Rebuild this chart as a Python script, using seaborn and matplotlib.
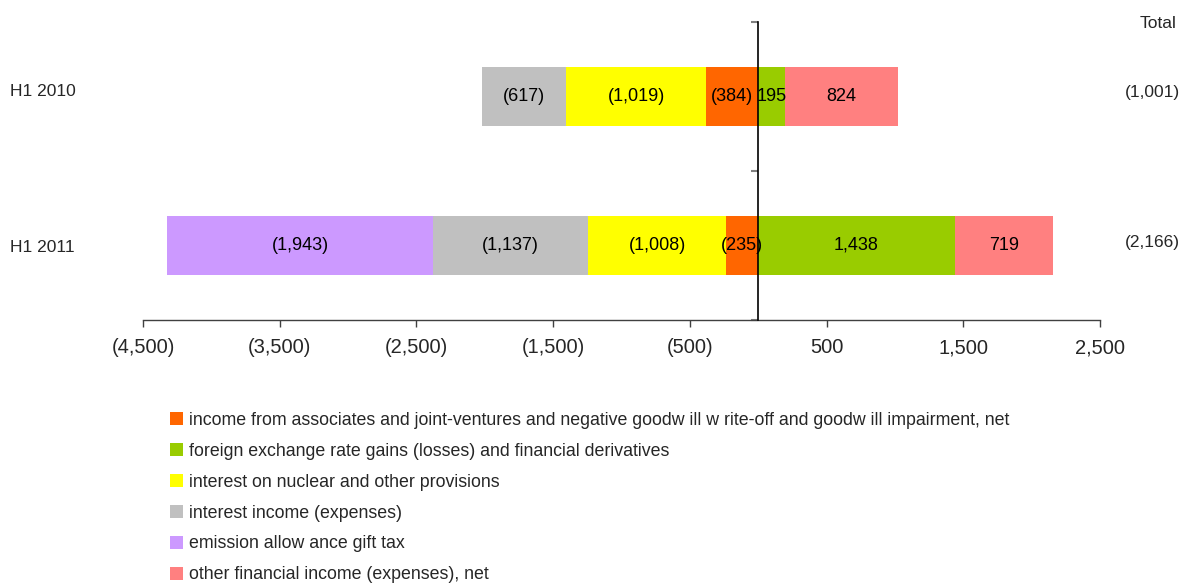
import matplotlib
matplotlib.use("Agg")
import matplotlib.pyplot as plt
from matplotlib.patches import Rectangle
import numpy as np
import seaborn as sns

# Financial result components by half-year (EUR millions)
categories = ["H1 2010", "H1 2011"]
associates = [-384, -235]
fx_derivatives = [195, 1438]
nuclear_interest = [-1019, -1008]
interest_income = [-617, -1137]
emission_tax = [0, -1943]
other_financial = [824, 719]
totals = [-1001, -2166]

series_names = [
    "income from associates and joint-ventures and negative goodw ill w rite-off and goodw ill impairment, net",
    "foreign exchange rate gains (losses) and financial derivatives",
    "interest on nuclear and other provisions",
    "interest income (expenses)",
    "emission allow ance gift tax",
    "other financial income (expenses), net",
]
colors = ["#FF6600", "#99CC00", "#FFFF00", "#C0C0C0", "#CC99FF", "#FF8080"]

xticks = [-4500, -3500, -2500, -1500, -500, 500, 1500, 2500]

sns.set_theme(style="white")
plt.rcParams["font.family"] = ["Liberation Sans", "DejaVu Sans"]


def fmt(v):
    return f"({abs(v):,.0f})" if v < 0 else f"{v:,.0f}"


W, H = 1184, 584
fig = plt.figure(figsize=(W / 100, H / 100), dpi=100)
ax = fig.add_axes([143 / W, 1 - 320 / H, (1100 - 143) / W, (320 - 22) / H])

a = np.array(associates, float)
f = np.array(fx_derivatives, float)
n = np.array(nuclear_interest, float)
i = np.array(interest_income, float)
e = np.array(emission_tax, float)
o = np.array(other_financial, float)

# stacked segments: negative side grows left from zero, positive side right
neg_layers = [
    (a + n + i + e, colors[4]),
    (a + n + i, colors[3]),
    (a + n, colors[2]),
    (a, colors[0]),
]
pos_layers = [
    (f + o, colors[5]),
    (f, colors[1]),
]
for vals, c in neg_layers + pos_layers:
    sns.barplot(x=vals, y=categories, orient="h", color=c, saturation=1,
                width=0.4, linewidth=0, ax=ax)

# value labels centred in each segment
segments = [
    (np.zeros(2), a, associates),
    (a, a + n, nuclear_interest),
    (a + n, a + n + i, interest_income),
    (a + n + i, a + n + i + e, emission_tax),
    (np.zeros(2), f, fx_derivatives),
    (f, f + o, other_financial),
]
for start, end, raw in segments:
    for k in range(len(categories)):
        if raw[k] == 0:
            continue
        ax.text((start[k] + end[k]) / 2, k, fmt(raw[k]), ha="center", va="center",
                fontsize=13, color="black")

ax.set_xlim(-4500, 2500)
ax.set_ylim(1.5, -0.5)
ax.set_xticks(xticks)
ax.set_xticklabels([fmt(t) for t in xticks], fontsize=14.5)
ax.set_yticks([-0.5, 0.5, 1.5])
ax.set_yticklabels([])
ax.set_xlabel("")
ax.set_ylabel("")

for s in ["top", "right"]:
    ax.spines[s].set_visible(False)
ax.spines["left"].set_position(("data", 0))
ax.spines["left"].set_color("black")
ax.spines["left"].set_linewidth(1.2)
ax.spines["left"].set_zorder(5)
ax.spines["bottom"].set_color("#404040")
ax.spines["bottom"].set_linewidth(1.0)
ax.tick_params(axis="x", direction="out", length=5, width=1, color="#404040", pad=8, bottom=True)
ax.tick_params(axis="y", direction="out", length=5, width=1.5, color="#808080", left=True)

# category names and totals (vertical positions in pixels from the top)
cat_y = [92, 248]
tot_y = [92, 242]
for k, cat in enumerate(categories):
    fig.text(10 / W, 1 - cat_y[k] / H, cat, ha="left", va="center", fontsize=12.5)
    fig.text(1180 / W, 1 - tot_y[k] / H, fmt(totals[k]), ha="right", va="center", fontsize=12.5)
fig.text(1177 / W, 1 - 23 / H, "Total", ha="right", va="center", fontsize=12.5)

handles = [Rectangle((0, 0), 1, 1, facecolor=c, edgecolor="none") for c in colors]
fig.legend(handles, series_names, loc="upper left",
           bbox_to_anchor=(170 / W, 1 - 412 / H), frameon=False, fontsize=12.8,
           handlelength=0.75, handleheight=0.75, handletextpad=0.3, labelspacing=0.78,
           borderaxespad=0, borderpad=0)

fig.savefig("out.png", dpi=100)
